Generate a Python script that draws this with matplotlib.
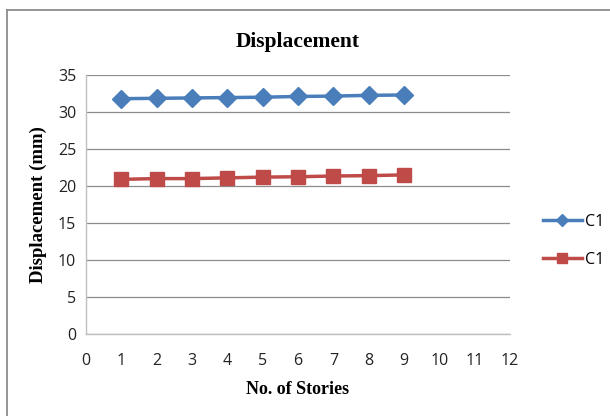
import matplotlib
matplotlib.use("Agg")
import matplotlib.pyplot as plt
from matplotlib.lines import Line2D

stories = [1, 2, 3, 4, 5, 6, 7, 8, 9]
disp_a = [31.8, 31.85, 31.9, 31.95, 32.0, 32.1, 32.15, 32.25, 32.3]
disp_b = [20.9, 21.0, 21.0, 21.1, 21.2, 21.25, 21.35, 21.4, 21.5]
series_labels = ["C1", "C1"]
x_ticks = list(range(0, 13))
y_ticks = list(range(0, 36, 5))

serif_bold = dict(family="Liberation Serif", weight="bold")
tick_font = "Open Sans"

fig = plt.figure(figsize=(6.10, 4.16), dpi=100)
fig.patch.set_facecolor("white")

# chart frame (left and top edges)
fx, fy = 7 / 610, 1 - 10 / 416
fig.add_artist(Line2D([fx, fx], [0, fy], transform=fig.transFigure,
                      color="#8c8c8c", linewidth=1.3))
fig.add_artist(Line2D([fx, 1], [fy, fy], transform=fig.transFigure,
                      color="#8c8c8c", linewidth=1.3))

ax = fig.add_axes([86 / 610, 1 - 334 / 416, 424 / 610, 259 / 416])
ax.plot(stories, disp_a, color="#4a7ebb", linewidth=2.5, marker="D",
        markersize=9, label=series_labels[0])
ax.plot(stories, disp_b, color="#be4b48", linewidth=2.5, marker="s",
        markersize=10.5, label=series_labels[1])

ax.set_xlim(0, 12)
ax.set_ylim(0, 35)
ax.set_xticks(x_ticks)
ax.set_yticks(y_ticks)
ax.grid(axis="y", color="#8c8c8c", linewidth=0.9)
ax.set_axisbelow(True)
for side in ["top", "right"]:
    ax.spines[side].set_visible(False)
for side in ["left", "bottom"]:
    ax.spines[side].set_color("#bfbfbf")
    ax.spines[side].set_linewidth(1.0)
ax.tick_params(length=0, labelsize=11.5, colors="#222222")
ax.tick_params(axis="x", pad=14)
ax.tick_params(axis="y", pad=7)
for lab in ax.get_xticklabels() + ax.get_yticklabels():
    lab.set_family(tick_font)

ax.set_title("Displacement", fontsize=15.5, pad=20, **serif_bold)
ax.set_xlabel("No. of Stories", fontsize=13, labelpad=8, **serif_bold)
ax.set_ylabel("Displacement (mm)", fontsize=13.5, labelpad=8, **serif_bold)

leg = ax.legend(loc="center left", bbox_to_anchor=(1.052, 0.36), frameon=False,
                prop={"family": tick_font, "size": 11.5}, handlelength=2.4,
                labelspacing=1.35, handletextpad=0.2, markerscale=0.7,
                borderpad=0.2)

fig.savefig("out.png", dpi=100, facecolor="white")
